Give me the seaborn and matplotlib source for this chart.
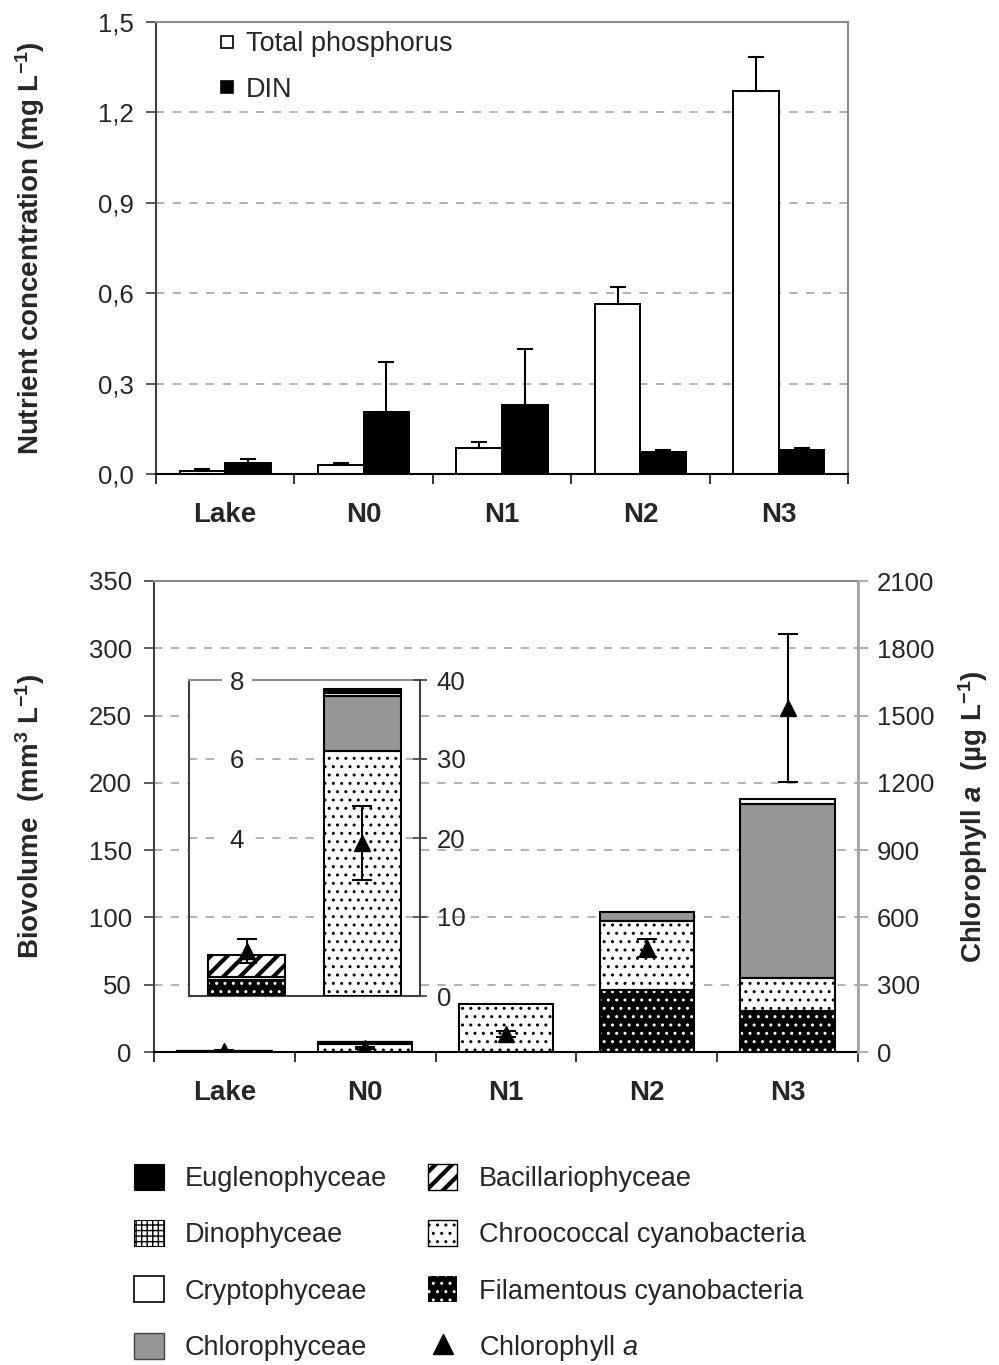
import numpy as np
import pandas as pd
import matplotlib
matplotlib.use("Agg")
import matplotlib as mpl
import matplotlib.pyplot as plt
import seaborn as sns
from matplotlib.patches import Patch
from matplotlib.lines import Line2D
from matplotlib.ticker import FuncFormatter

# ---------------- data ----------------
sites = ["Lake", "N0", "N1", "N2", "N3"]
tp = [0.010, 0.030, 0.085, 0.565, 1.270]
tp_err = [0.005, 0.006, 0.020, 0.055, 0.115]
din = [0.038, 0.207, 0.228, 0.073, 0.080]
din_err = [0.012, 0.165, 0.187, 0.007, 0.006]

# biovolume (mm3 L-1), stacking order bottom -> top
filamentous = [0.40, 0.0, 0.0, 46.0, 30.5]
chroococcal = [0.08, 6.19, 36.0, 51.5, 24.5]
bacillario = [0.56, 0.0, 0.0, 0.0, 0.0]
chloro = [0.0, 1.41, 0.0, 6.5, 129.0]
crypto = [0.0, 0.08, 0.0, 0.0, 4.0]
dino = [0.0, 0.0, 0.0, 0.0, 0.0]
eugleno = [0.0, 0.10, 0.0, 0.0, 0.0]

chl = [5.7, 19.4, 80.0, 464.0, 1534.0]
chl_err = [1.5, 4.7, 15.0, 40.0, 330.0]

legend_names = ["Euglenophyceae", "Dinophyceae", "Cryptophyceae", "Chlorophyceae",
                "Bacillariophyceae", "Chroococcal cyanobacteria",
                "Filamentous cyanobacteria", "Chlorophyll a"]

# ---------------- style ----------------
sns.set_theme(style="white")
plt.rcParams["font.family"] = ["Liberation Sans", "DejaVu Sans"]
plt.rcParams["mathtext.fontset"] = "custom"
plt.rcParams["mathtext.rm"] = "Liberation Sans:bold"
plt.rcParams["mathtext.bf"] = "Liberation Sans:bold"
plt.rcParams["mathtext.it"] = "Liberation Sans:italic"
has_bfit = "mathtext.bfit" in mpl.rcParams
if has_bfit:
    plt.rcParams["mathtext.bfit"] = "Liberation Sans:italic:bold"
plt.rcParams["hatch.linewidth"] = 1.0

FS = 18.5      # tick numbers
FSB = 20       # bold axis / category labels
FSL = 19.5     # legends
GRID = dict(color="#a6a6a6", linestyle=(0, (5, 5)), linewidth=1.2)
DARK = "#404040"
LIGHT = "#8c8c8c"

fig = plt.figure(figsize=(9.99, 13.65), dpi=100)
W, H = 999, 1365


def rect(x0, y0, x1, y1):
    return [x0 / W, 1 - y1 / H, (x1 - x0) / W, (y1 - y0) / H]


def style_cat_x(ax, n):
    ax.set_xlim(-0.5, n - 0.5)
    ax.set_xticks(np.arange(n))
    ax.set_xticks(np.arange(n + 1) - 0.5, minor=True)
    ax.tick_params(axis="x", which="major", length=0, pad=20, labelsize=FSB)
    ax.tick_params(axis="x", which="minor", length=7, width=1.1, color="black",
                   direction="out", bottom=True)


# ---------------- top panel ----------------
ax1 = fig.add_axes(rect(156, 22, 848, 474))
df = pd.DataFrame({
    "site": sites * 2,
    "var": ["Total phosphorus"] * 5 + ["DIN"] * 5,
    "value": tp + din,
})
sns.barplot(data=df, x="site", y="value", hue="var",
            hue_order=["Total phosphorus", "DIN"],
            palette={"Total phosphorus": "white", "DIN": "black"},
            edgecolor="black", linewidth=1.4, width=0.66, gap=0,
            saturation=1, errorbar=None, legend=False, ax=ax1, zorder=2)
for cont, errs in zip(ax1.containers, [tp_err, din_err]):
    xs = [b.get_x() + b.get_width() / 2 for b in cont]
    ys = [b.get_height() for b in cont]
    ax1.errorbar(xs, ys, yerr=[np.zeros(len(errs)), errs], fmt="none",
                 ecolor="black", elinewidth=1.5, capsize=5.5, capthick=1.5, zorder=3)

ax1.set_ylim(0, 1.5)
ax1.set_yticks(np.arange(0, 1.51, 0.3))
ax1.yaxis.set_major_formatter(FuncFormatter(lambda v, p: f"{v:.1f}".replace(".", ",")))
ax1.tick_params(axis="y", direction="out", length=7, width=1.2, color=DARK,
                pad=9, labelsize=FS, left=True)
style_cat_x(ax1, len(sites))
ax1.set_xticklabels(sites, fontweight="bold")
ax1.set_xlabel("")
ax1.set_ylabel(r"Nutrient concentration (mg L$^{-1}$)", fontsize=FSB, fontweight="bold")
ax1.yaxis.set_label_coords(-0.1575, 0.5)
ax1.set_axisbelow(True)
ax1.yaxis.grid(True, **GRID)
ax1.xaxis.grid(False)
for s in ["top", "right"]:
    ax1.spines[s].set_color(LIGHT)
    ax1.spines[s].set_linewidth(1.5)
ax1.spines["left"].set_color(DARK)
ax1.spines["left"].set_linewidth(1.5)
ax1.spines["bottom"].set_color("black")
ax1.spines["bottom"].set_linewidth(1.5)

h_tp = Line2D([], [], marker="s", ls="none", ms=9, mfc="white", mec="black", mew=1.2)
h_din = Line2D([], [], marker="s", ls="none", ms=9, mfc="black", mec="black", mew=1.2)
leg1 = ax1.legend([h_tp, h_din], ["Total phosphorus", "DIN"], loc="upper left",
                  bbox_to_anchor=(0.065, 1.022), fontsize=FSL, frameon=True,
                  facecolor="white", edgecolor="white", framealpha=1, fancybox=False,
                  handlelength=0.55, handletextpad=0.4, labelspacing=0.73,
                  borderpad=0.2)

# ---------------- stacked biovolume ----------------
layers = [filamentous, chroococcal, bacillario, chloro, crypto, dino, eugleno]
styles = [
    dict(face="black", hatch="..", hcol="white", hlw=1.0),     # filamentous
    dict(face="white", hatch="..", hcol="black", hlw=1.0),     # chroococcal
    dict(face="white", hatch="//", hcol="black", hlw=3.0),     # bacillario
    dict(face="#969696", hatch=None, hcol="black", hlw=1.0),   # chloro
    dict(face="white", hatch=None, hcol="black", hlw=1.0),     # crypto
    dict(face="white", hatch="+++", hcol="black", hlw=1.0),    # dino
    dict(face="black", hatch=None, hcol="black", hlw=1.0),     # eugleno
]


def draw_stack(ax, n, width):
    pos = np.arange(n)
    bottom = np.zeros(n)
    for vals, st in zip(layers, styles):
        v = np.asarray(vals[:n], float)
        m = v > 0
        if m.any():
            with plt.rc_context({"hatch.linewidth": st["hlw"]}):
                bars = ax.bar(pos[m], v[m], bottom=bottom[m], width=width,
                              color=st["face"], edgecolor=st["hcol"],
                              hatch=st["hatch"], linewidth=0, zorder=2)
            for b in bars:
                if hasattr(b, "set_hatch_linewidth"):
                    b.set_hatch_linewidth(st["hlw"])
            ax.bar(pos[m], v[m], bottom=bottom[m], width=width, fill=False,
                   edgecolor="black", linewidth=1.5, zorder=3)
        bottom += v


ax2 = fig.add_axes(rect(154, 581, 858, 1052))
draw_stack(ax2, len(sites), 0.67)
ax2.set_ylim(0, 350)
ax2.set_yticks(np.arange(0, 351, 50))
ax2.tick_params(axis="y", direction="out", length=7, width=1.2, color=DARK,
                pad=9, labelsize=FS, left=True)
style_cat_x(ax2, len(sites))
ax2.set_xticklabels(sites, fontweight="bold")
ax2.set_ylabel(r"Biovolume  (mm$^3$ L$^{-1}$)", fontsize=FSB, fontweight="bold")
ax2.yaxis.set_label_coords(-0.152, 0.5)
ax2.set_axisbelow(True)
ax2.yaxis.grid(True, **GRID)
ax2.xaxis.grid(False)
for s in ["top", "right"]:
    ax2.spines[s].set_color(LIGHT)
    ax2.spines[s].set_linewidth(1.5)
ax2.spines["left"].set_color(DARK)
ax2.spines["left"].set_linewidth(1.5)
ax2.spines["bottom"].set_color("black")
ax2.spines["bottom"].set_linewidth(1.5)

ax2r = ax2.twinx()
ax2r.errorbar(np.arange(len(sites)), chl, yerr=chl_err, fmt="^", color="black",
              ms=11, elinewidth=1.5, capsize=7, capthick=1.5, zorder=4)
ax2r.set_ylim(0, 2100)
ax2r.set_yticks(np.arange(0, 2101, 300))
ax2r.tick_params(axis="y", direction="out", length=7, width=1.2, color="#a0a0a0",
                 pad=6.5, labelsize=FS, right=True)
ax2r.grid(False)
ax2r.spines["right"].set_color("#a6a6a6")
ax2r.spines["right"].set_linewidth(2)
for s in ["top", "left", "bottom"]:
    ax2r.spines[s].set_visible(False)
a_txt = r"$\mathbfit{a}$" if has_bfit else r"$\mathit{a}$"
ax2r.set_ylabel("Chlorophyll " + a_txt + r"  (µg L$^{-1}$)", fontsize=FSB,
                fontweight="bold", rotation=90)
ax2r.yaxis.set_label_coords(1.139, 0.5)

# ---------------- inset ----------------
n_in = 2
ax3 = fig.add_axes(rect(189, 680, 420, 996))
ax3.set_zorder(5)
ax3.patch.set_facecolor("white")
draw_stack(ax3, n_in, 0.67)
ax3.set_xlim(-0.5, n_in - 0.5)
ax3.set_ylim(0, 8)
ax3.set_xticks([])
ax3.set_yticks([2, 4, 6])
ax3.set_yticklabels([])
ax3.tick_params(axis="y", length=0)
ax3.set_axisbelow(True)
ax3.yaxis.grid(True, **GRID)
ax3.xaxis.grid(False)
ax3.spines["left"].set_color(DARK)
ax3.spines["left"].set_linewidth(1.5)
ax3.spines["top"].set_color(LIGHT)
ax3.spines["top"].set_linewidth(1.5)
ax3.spines["bottom"].set_color(DARK)
ax3.spines["bottom"].set_linewidth(1.5)
ax3.spines["right"].set_visible(False)

ax3r = ax3.twinx()
ax3r.set_zorder(6)
ax3r.errorbar(np.arange(n_in), chl[:n_in], yerr=chl_err[:n_in], fmt="^",
              color="black", ms=11, elinewidth=1.5, capsize=7, capthick=1.5, zorder=4)
ax3r.set_ylim(0, 40)
ax3r.set_yticks(np.arange(0, 41, 10))
ax3r.tick_params(axis="y", direction="inout", length=10, width=1.2, color=DARK,
                 pad=7, labelsize=FS, right=True)
ax3r.grid(False)
for s in ["top", "left", "bottom"]:
    ax3r.spines[s].set_visible(False)
ax3r.spines["right"].set_color(DARK)
ax3r.spines["right"].set_linewidth(1.5)

# inset left labels drawn inside, above spines/gridlines
ax3l = fig.add_axes(rect(189, 680, 420, 996))
ax3l.set_zorder(7)
ax3l.patch.set_visible(False)
for s in ax3l.spines.values():
    s.set_visible(False)
ax3l.grid(False)
ax3l.set_xticks([])
ax3l.set_ylim(0, 8)
ax3l.set_yticks([4, 6, 8])
ax3l.set_yticklabels(["4", "6", "8"])
ax3l.tick_params(axis="y", direction="in", length=0, pad=-34.5, labelsize=FS)
for lab in ax3l.get_yticklabels():
    lab.set_horizontalalignment("center")
    lab.set_bbox(dict(facecolor="white", edgecolor="none", pad=6))

# ---------------- bottom legend ----------------
handles = [
    Patch(facecolor="black", edgecolor="black", linewidth=0.8),
    Patch(facecolor="white", edgecolor="black", hatch="+++", linewidth=0.8),
    Patch(facecolor="white", edgecolor="black", linewidth=1.2),
    Patch(facecolor="#969696", edgecolor="#444444", linewidth=1.0),
    Patch(facecolor="white", edgecolor="black", hatch="//", linewidth=1.0),
    Patch(facecolor="white", edgecolor="black", hatch="..", linewidth=1.0),
    Patch(facecolor="black", edgecolor="white", hatch="..", linewidth=0),
    Line2D([], [], marker="^", ls="none", color="black", ms=14),
]
labels = legend_names[:7] + ["Chlorophyll $a$"]
fleg = fig.legend(handles, labels, ncol=2, loc="upper left",
                  bbox_to_anchor=(0.134, 0.1475), frameon=False, fontsize=FSL,
                  handlelength=1.1, handleheight=1.1, labelspacing=1.04,
                  columnspacing=1.5, handletextpad=0.78, borderpad=0, borderaxespad=0)
for p in fleg.get_patches():
    if p.get_hatch() == "//" and hasattr(p, "set_hatch_linewidth"):
        p.set_hatch_linewidth(3.0)

fig.savefig("out.png", dpi=100, facecolor="white")
